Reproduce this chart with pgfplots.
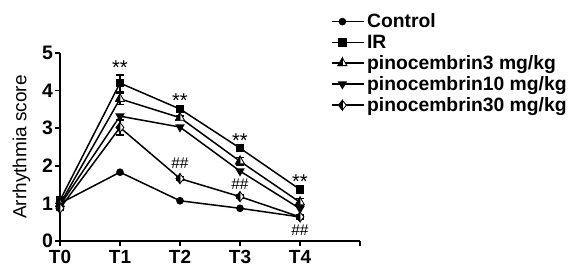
\documentclass[border=0pt]{standalone}
\usepackage{pgfplots}
\pgfplotsset{compat=1.18}
\usepackage{fontspec}
\setmainfont{Liberation Sans}
\pgfdeclareplotmark{halftri}{%
  \pgfpathmoveto{\pgfqpoint{0pt}{1.2\pgfplotmarksize}}%
  \pgfpathlineto{\pgfqpoint{-1.04\pgfplotmarksize}{-.6\pgfplotmarksize}}%
  \pgfpathlineto{\pgfqpoint{1.04\pgfplotmarksize}{-.6\pgfplotmarksize}}%
  \pgfpathclose
  \pgfsetfillcolor{white}\pgfusepathqfillstroke
  \pgfpathmoveto{\pgfqpoint{0pt}{1.2\pgfplotmarksize}}%
  \pgfpathlineto{\pgfqpoint{-1.04\pgfplotmarksize}{-.6\pgfplotmarksize}}%
  \pgfpathlineto{\pgfqpoint{0pt}{-.6\pgfplotmarksize}}%
  \pgfpathclose
  \pgfsetfillcolor{black}\pgfusepathqfillstroke
}
\pgfdeclareplotmark{halfdia}{%
  \pgfpathmoveto{\pgfqpoint{0pt}{\pgfplotmarksize}}%
  \pgfpathlineto{\pgfqpoint{-.8\pgfplotmarksize}{0pt}}%
  \pgfpathlineto{\pgfqpoint{0pt}{-\pgfplotmarksize}}%
  \pgfpathlineto{\pgfqpoint{.8\pgfplotmarksize}{0pt}}%
  \pgfpathclose
  \pgfsetfillcolor{white}\pgfusepathqfillstroke
  \pgfpathmoveto{\pgfqpoint{0pt}{\pgfplotmarksize}}%
  \pgfpathlineto{\pgfqpoint{-.8\pgfplotmarksize}{0pt}}%
  \pgfpathlineto{\pgfqpoint{0pt}{-\pgfplotmarksize}}%
  \pgfpathclose
  \pgfsetfillcolor{black}\pgfusepathqfillstroke
}
\begin{document}
\begin{tikzpicture}
\useasboundingbox (-60pt,-27pt) rectangle (509pt,241pt);
\begin{axis}[
  at={(0pt,0pt)}, anchor=south west,
  scale only axis, width=300pt, height=188pt,
  xmin=0, xmax=5, ymin=0, ymax=5,
  axis x line*=bottom, axis y line*=left,
  axis line style={line width=1.6pt, -},
  xtick={0,1,2,3,4,5}, xticklabels={T0,T1,T2,T3,T4,},
  ytick={0,1,2,3,4,5},
  tick style={line width=1.6pt, black},
  tick align=outside, major tick length=4.5pt,
  xticklabel style={font=\fontsize{19}{20}\selectfont\bfseries, yshift=-5pt, inner ysep=0pt},
  yticklabel style={font=\fontsize{19.5}{22}\selectfont\bfseries, xshift=1pt},
  /pgf/number format/assume math mode=true,
  ylabel={Arrhythmia score},
  ylabel style={font=\fontsize{19}{21}\selectfont, yshift=5pt},
  clip=false,
  legend style={at={(0.905,1.22)}, anchor=north west, draw=none, fill=none,
    font=\fontsize{19.3}{20}\selectfont\bfseries, row sep=1.6pt, cells={anchor=west},
    inner sep=0pt},
  legend image code/.code={\path (0cm,0cm) -- (0.7cm+12pt,0cm);\draw[mark repeat=2,mark phase=2] plot coordinates {(0cm,0cm) (0.35cm,0cm) (0.7cm,0cm)};},
  every axis plot/.append style={line width=1.5pt, black, mark options={solid, line width=0.8pt}},
]
\addplot[mark=*, mark size=3.4pt] coordinates {(0,1.0) (1,1.83) (2,1.07) (3,0.87) (4,0.64)};
\addlegendentry{Control}
\addplot[mark=square*, mark size=3.6pt, error bars/.cd, y dir=both, y explicit, error bar style={line width=1.5pt}, error mark options={rotate=90, mark size=4pt, line width=1.5pt}]
  coordinates {(0,1.08) +- (0,0.08) (1,4.2) +- (0,0.22) (2,3.51) +- (0,0.05) (3,2.47) +- (0,0.05) (4,1.37) +- (0,0.05)};
\addlegendentry{IR}
\addplot[mark=halftri, mark size=4.3pt, error bars/.cd, y dir=both, y explicit, error bar style={line width=1.5pt}, error mark options={rotate=90, mark size=4pt, line width=1.5pt}]
  coordinates {(0,0.98) +- (0,0.05) (1,3.78) +- (0,0.15) (2,3.28) +- (0,0.05) (3,2.12) +- (0,0.1) (4,1.03) +- (0,0.1)};
\addlegendentry{pinocembrin3 mg/kg}
\addplot[mark=triangle*, mark options={rotate=180}, mark size=4pt] coordinates {(0,0.95) (1,3.32) (2,3.03) (3,1.86) (4,0.86)};
\addlegendentry{pinocembrin10 mg/kg}
\addplot[mark=halfdia, mark size=4.9pt, error bars/.cd, y dir=both, y explicit, error bar style={line width=1.5pt}, error mark options={rotate=90, mark size=4pt, line width=1.5pt}]
  coordinates {(0,0.87) +- (0,0.05) (1,3.02) +- (0,0.2) (2,1.66) +- (0,0.05) (3,1.18) +- (0,0.05) (4,0.64) +- (0,0.05)};
\addlegendentry{pinocembrin30 mg/kg}
\begin{scope}[every node/.style={font=\fontsize{20}{20}\selectfont}]
\node at (axis cs:1,4.6) {**};
\node at (axis cs:2,3.74) {**};
\node at (axis cs:3,2.68) {**};
\node at (axis cs:4,1.59) {**};
\end{scope}
\begin{scope}[every node/.style={font=\fontsize{15.5}{15}\selectfont}]
\node at (axis cs:2,2.08) {\#\#};
\node at (axis cs:3,1.52) {\#\#};
\node at (axis cs:4,0.3) {\#\#};
\end{scope}
\end{axis}
\end{tikzpicture}
\end{document}
